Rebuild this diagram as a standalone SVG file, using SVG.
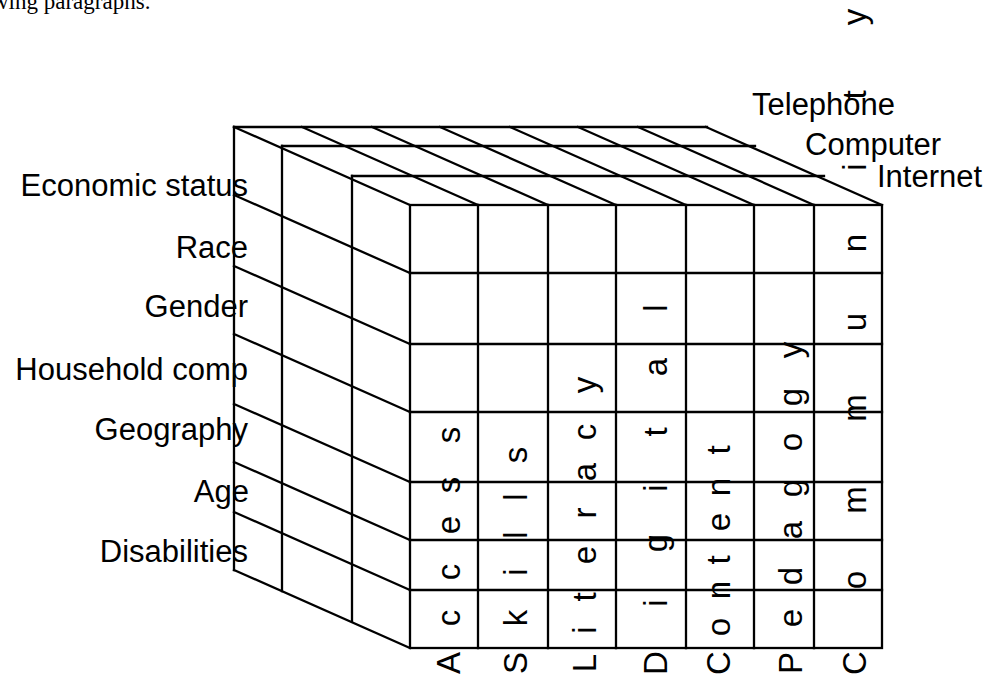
<svg xmlns="http://www.w3.org/2000/svg" width="997" height="679" viewBox="0 0 997 679">
<style>
.ln{stroke:#000;stroke-width:2.3;fill:none;stroke-linecap:square}
.lbl{font-family:"Liberation Sans",Arial,sans-serif;font-size:31px;fill:#000}
.vt{font-family:"Liberation Sans",Arial,sans-serif;font-size:33px;fill:#000;text-anchor:middle}
.doc{font-family:"Liberation Serif","Times New Roman",serif;font-size:23px;fill:#000}
</style>
<rect width="997" height="679" fill="#fff"/>
<text class="doc" x="-8" y="9">wing paragraphs.</text>

<g id="connectors">
<g id="cube-top">
<line class="ln" x1="234" y1="127" x2="707" y2="127"/>
<line class="ln" x1="282" y1="146" x2="755" y2="146"/>
<line class="ln" x1="352" y1="176" x2="824" y2="176"/>
<line class="ln" x1="234" y1="127" x2="410" y2="205"/>
<line class="ln" x1="302" y1="127" x2="478" y2="205"/>
<line class="ln" x1="372" y1="127" x2="548" y2="205"/>
<line class="ln" x1="440" y1="127" x2="616" y2="205"/>
<line class="ln" x1="510" y1="127" x2="686" y2="205"/>
<line class="ln" x1="578" y1="127" x2="754" y2="205"/>
<line class="ln" x1="638" y1="127" x2="814" y2="205"/>
<line class="ln" x1="706" y1="127" x2="882" y2="205"/>
</g>
<g id="cube-side">
<line class="ln" x1="234" y1="127" x2="234" y2="570"/>
<line class="ln" x1="282" y1="146" x2="282" y2="591"/>
<line class="ln" x1="352" y1="176" x2="352" y2="621"/>
<line class="ln" x1="234" y1="195" x2="410" y2="273"/>
<line class="ln" x1="234" y1="266" x2="410" y2="344"/>
<line class="ln" x1="234" y1="334" x2="410" y2="412"/>
<line class="ln" x1="234" y1="404" x2="410" y2="482"/>
<line class="ln" x1="234" y1="462" x2="410" y2="540"/>
<line class="ln" x1="234" y1="512" x2="410" y2="590"/>
<line class="ln" x1="234" y1="570" x2="410" y2="648"/>
</g>
<g id="cube-front">
<rect class="ln" x="410" y="205" width="472" height="443"/>
<line class="ln" x1="478" y1="205" x2="478" y2="648"/>
<line class="ln" x1="548" y1="205" x2="548" y2="648"/>
<line class="ln" x1="616" y1="205" x2="616" y2="648"/>
<line class="ln" x1="686" y1="205" x2="686" y2="648"/>
<line class="ln" x1="754" y1="205" x2="754" y2="648"/>
<line class="ln" x1="814" y1="205" x2="814" y2="648"/>
<line class="ln" x1="410" y1="273" x2="882" y2="273"/>
<line class="ln" x1="410" y1="344" x2="882" y2="344"/>
<line class="ln" x1="410" y1="412" x2="882" y2="412"/>
<line class="ln" x1="410" y1="482" x2="882" y2="482"/>
<line class="ln" x1="410" y1="540" x2="882" y2="540"/>
<line class="ln" x1="410" y1="590" x2="882" y2="590"/>
</g>
</g>

<g id="row-labels" class="lbl" text-anchor="end">
<g id="economic-status"><text x="248" y="196">Economic status</text></g>
<g id="race"><text x="248" y="258">Race</text></g>
<g id="gender"><text x="248" y="317">Gender</text></g>
<g id="household-comp"><text x="248" y="380">Household comp</text></g>
<g id="geography"><text x="248" y="440">Geography</text></g>
<g id="age"><text x="249" y="502">Age</text></g>
<g id="disabilities"><text x="248" y="562">Disabilities</text></g>
</g>

<g id="layer-labels" class="lbl">
<g id="telephone"><text x="752" y="115">Telephone</text></g>
<g id="computer"><text x="805" y="155">Computer</text></g>
<g id="internet"><text x="877" y="187">Internet</text></g>
</g>

<g id="column-labels">
<g id="access"><text class="vt" transform="translate(460,0) rotate(-90)" y="0" x="-663 -618 -572 -525 -485 -435">Access</text></g>
<g id="skills"><text class="vt" transform="translate(527,0) rotate(-90)" y="0" x="-663 -618 -572 -535 -497 -455">Skills</text></g>
<g id="literacy"><text class="vt" transform="translate(596,0) rotate(-90)" y="0" x="-663 -630 -597 -555 -513 -472 -432 -385">Literacy</text></g>
<g id="digital"><text class="vt" transform="translate(667,0) rotate(-90)" y="0" x="-663 -603 -543 -488 -432 -367 -308">Digital</text></g>
<g id="content"><text class="vt" transform="translate(730,0) rotate(-90)" y="0" x="-663 -627 -590 -560 -522 -487 -450">Content</text></g>
<g id="pedagogy"><text class="vt" transform="translate(802,0) rotate(-90)" y="0" x="-663 -618 -576 -530 -488 -442 -397 -350">Pedagogy</text></g>
<g id="community"><text class="vt" transform="translate(866,0) rotate(-90)" y="0" x="-663 -580 -500 -408 -322 -243 -167 -95 -17">Community</text></g>
</g>
</svg>
